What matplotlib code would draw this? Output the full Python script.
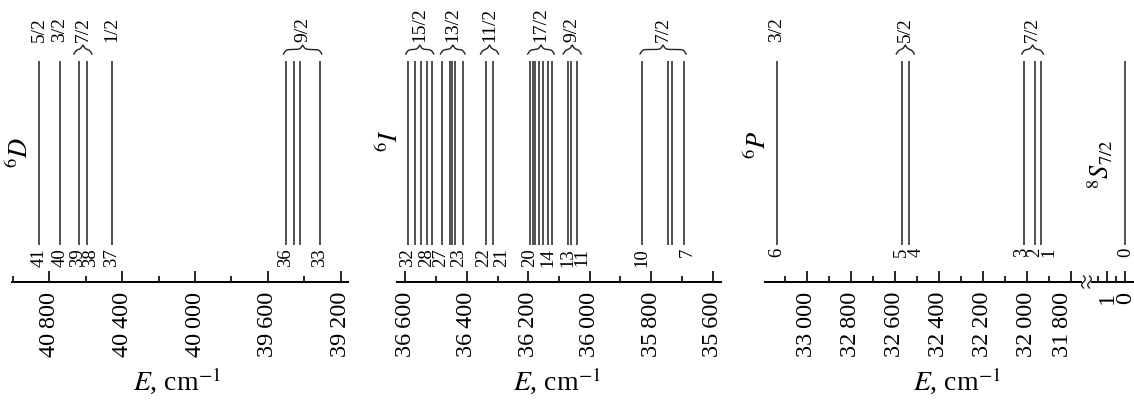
import numpy as np
import matplotlib
matplotlib.use('Agg')
import matplotlib.pyplot as plt
from matplotlib.ticker import FixedLocator, MultipleLocator, FuncFormatter
from matplotlib.transforms import ScaledTranslation

plt.rcParams['font.family'] = ['Liberation Serif', 'DejaVu Serif']
plt.rcParams['mathtext.fontset'] = 'stix'

# level energies (cm^-1) and level numbers
num_D = [41, 40, 39, 38, 37, 36, 35, 34, 33]
E_D = [40856, 40742, 40637, 40594, 40457, 39503, 39459, 39423, 39315]
shown_D = [41, 40, 39, 38, 37, 36, 33]
groups_D = [('5/2', [41]), ('3/2', [40]), ('7/2', [39, 38]), ('1/2', [37]),
            ('9/2', [36, 35, 34, 33])]

num_I = list(range(32, 6, -1))
E_I = [36592, 36570, 36548, 36531, 36514,
       36479, 36453, 36447, 36438, 36412,
       36336, 36316,
       36195, 36186, 36177, 36166, 36151, 36136, 36122,
       36072, 36061, 36042,
       35830, 35747, 35732, 35693]
shown_I = [32, 28, 27, 23, 22, 21, 20, 14, 13, 11, 10, 7]
groups_I = [('15/2', [32, 31, 30, 29, 28]), ('13/2', [27, 26, 25, 24, 23]),
            ('11/2', [22, 21]), ('17/2', [20, 19, 18, 17, 16, 15, 14]),
            ('9/2', [13, 12, 11]), ('7/2', [10, 9, 8, 7])]

num_P = [6, 5, 4, 3, 2, 1]
E_P = [33137, 32568, 32537, 32014, 31963, 31934]
shown_P = [6, 5, 4, 3, 2, 1]
groups_P = [('3/2', [6]), ('5/2', [5, 4]), ('7/2', [3, 2, 1])]

num_S = [0]
E_S = [0]

# small sideways shifts of crowded level numbers (pixels)
nudge = {39: -1, 38: 4, 28: -5, 27: -2, 23: -4, 22: -3, 21: 9, 14: -4, 11: 5,
         7: 3, 4: 7, 3: -2, 1: 8}

W, H = 1134, 407
AX_Y = 282
fig = plt.figure(figsize=(W / 100, H / 100), dpi=100)


def rect(x0, x1):
    return [x0 / W, (H - AX_Y) / H, (x1 - x0) / W, AX_Y / H]


def fy(y):  # pixel row from top -> axes fraction
    return (AX_Y - y) / AX_Y


LINE_BOT, LINE_TOP = fy(245), fy(61)
NUM_Y = fy(248)
J_Y = fy(42)
BR_LO, BR_HI = fy(54), fy(45)

sep = lambda v, p: f'{int(v):,}'.replace(',', '\u2009')


def setup(ax, xlim, major, minor, fmt=True):
    ax.set_xlim(*xlim)
    ax.set_ylim(0, 1)
    for s in ['top', 'left', 'right']:
        ax.spines[s].set_visible(False)
    ax.spines['bottom'].set_linewidth(1.4)
    ax.set_yticks([])
    ax.xaxis.set_major_locator(major)
    ax.xaxis.set_minor_locator(minor)
    if fmt:
        ax.xaxis.set_major_formatter(FuncFormatter(sep))
    ax.tick_params(axis='x', which='major', direction='in', length=8, width=1.2,
                   labelsize=17.5, labelrotation=90, pad=7)
    ax.tick_params(axis='x', which='minor', direction='in', length=4.5, width=1.2)
    ax.patch.set_visible(False)


def brace(ax, xa, xb):
    tr = ax.transData
    pa = tr.transform((xa, 0))[0]
    pb = tr.transform((xb, 0))[0]
    w = abs(pb - pa)
    k = 0.8 * w
    t = np.linspace(0, 0.5, 120)
    s = lambda u: 1 / (1 + np.exp(-k * u))
    yh = s(t) + s(t - 0.5) - 0.5
    yh = (yh - yh[0]) / (yh[-1] - yh[0])
    tt = np.concatenate([t, 1 - t[::-1]])
    yy = np.concatenate([yh, yh[::-1]])
    xs = xa + (xb - xa) * tt
    ys = BR_LO + (BR_HI - BR_LO) * yy
    ax.plot(xs, ys, color='#222222', lw=1.0, transform=ax.get_xaxis_transform(),
            clip_on=False)


def levels(ax, E, nums, shown, groups):
    xt = ax.get_xaxis_transform()
    ax.vlines(E, LINE_BOT, LINE_TOP, color='#222222', lw=1.1, transform=xt)
    emap = dict(zip(nums, E))
    for n, e in zip(nums, E):
        if n in shown:
            ax.annotate(str(n), xy=(e, NUM_Y), xycoords=xt,
                        xytext=(nudge.get(n, 0) * 0.72, 0), textcoords='offset points',
                        rotation=90, ha='center', va='top', fontsize=13.5)
    # pixels per data unit
    scale = abs(ax.transData.transform((1, 0))[0] - ax.transData.transform((0, 0))[0])
    for lab, members in groups:
        es = [emap[m] for m in members]
        if len(es) == 1:
            xc = es[0]
        else:
            lo, hi = min(es), max(es)
            span_px = (hi - lo) * scale
            pad = max(2.0, (18 - span_px) / 2) / scale
            xa, xb = hi + pad, lo - pad
            brace(ax, xa, xb)
            xc = (xa + xb) / 2
        ax.text(xc, J_Y, lab, transform=xt, rotation=90, ha='center', va='bottom',
                fontsize=14)


ax1 = fig.add_axes(rect(12, 348))
setup(ax1, (41005, 39160), MultipleLocator(400), MultipleLocator(200))
levels(ax1, E_D, num_D, shown_D, groups_D)

ax2 = fig.add_axes(rect(397, 721))
setup(ax2, (36627, 35573), MultipleLocator(200), MultipleLocator(100))
levels(ax2, E_I, num_I, shown_I, groups_I)

ax3 = fig.add_axes(rect(765, 1081))
setup(ax3, (33190, 31754), MultipleLocator(200), MultipleLocator(100))
levels(ax3, E_P, num_P, shown_P, groups_P)

ax4 = fig.add_axes(rect(1092, 1134))
setup(ax4, (1.81, -0.46), FixedLocator([1, 0]), FixedLocator([1.5, 0.5]), fmt=False)
levels(ax4, E_S, num_S, [0], [])

# shift the last label of the 6P panel a bit left
fig.canvas.draw()
for lbl in ax3.get_xticklabels():
    if lbl.get_text().startswith('31'):
        lbl.set_transform(lbl.get_transform() + ScaledTranslation(-8 / 100, 0, fig.dpi_scale_trans))

# axis break marks
for xb in (1083.5, 1089.5):
    yy = np.linspace(-6, 6, 40)
    xx = 1.8 * np.sin(yy / 6 * np.pi)
    fig.add_artist(plt.Line2D((xb + xx) / W, (H - AX_Y + yy) / H, color='#222222',
                              lw=1.0, transform=fig.transFigure))

# term labels
fig.text(20 / W, 1 - 152 / H, r'$^{6}D$', rotation=90, ha='center', va='center', fontsize=19)
fig.text(390 / W, 1 - 141 / H, r'$^{6}I$', rotation=90, ha='center', va='center', fontsize=19)
fig.text(758 / W, 1 - 145 / H, r'$^{6}P$', rotation=90, ha='center', va='center', fontsize=19)
fig.text(1100 / W, 1 - 164 / H, r'$^{8}S_{7/2}$', rotation=90, ha='center', va='center',
         fontsize=19)

# axis titles
for xc in (177, 557, 957):
    fig.text(xc / W, 1 - 390 / H, r'$E$, cm$^{-1}$', ha='center', va='baseline', fontsize=20)

fig.savefig('out.png', dpi=100)
